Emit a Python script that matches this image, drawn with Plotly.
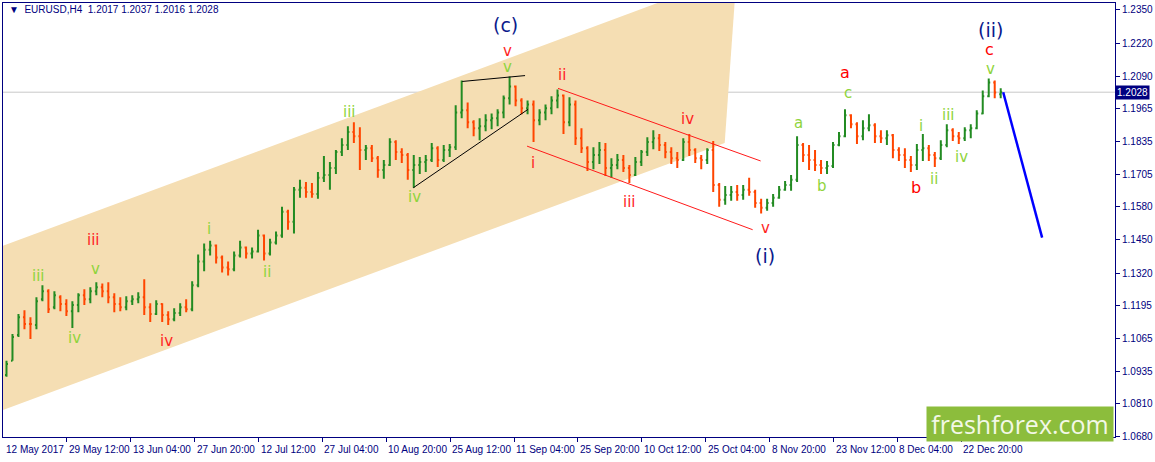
"""EURUSD H4 Elliott-wave chart rebuilt with Plotly."""

import plotly.graph_objects as go

# Daily OHLC (one bar per trading day, 15 May - 29 Dec 2017)
OPEN = [
    1.0922, 1.0977, 1.1078, 1.1148, 1.1121, 1.1117, 1.1218, 1.1249, 1.1187, 1.1226,
    1.1199, 1.1171, 1.1195, 1.1234, 1.1218, 1.1249, 1.1265, 1.1249, 1.1226, 1.1199,
    1.1187, 1.1210, 1.1218, 1.1226, 1.1187, 1.1160, 1.1199, 1.1156, 1.1140, 1.1164,
    1.1187, 1.1179, 1.1273, 1.1366, 1.1412, 1.1428, 1.1381, 1.1342, 1.1335, 1.1389,
    1.1420, 1.1397, 1.1405, 1.1467, 1.1397, 1.1440, 1.1467, 1.1560, 1.1521, 1.1646,
    1.1654, 1.1638, 1.1630, 1.1693, 1.1704, 1.1731, 1.1794, 1.1821, 1.1872, 1.1856,
    1.1802, 1.1809, 1.1770, 1.1724, 1.1743, 1.1833, 1.1794, 1.1782, 1.1724, 1.1743,
    1.1755, 1.1763, 1.1809, 1.1763, 1.1802, 1.1813, 1.1949, 1.1957, 1.1910, 1.1887,
    1.1895, 1.1918, 1.1926, 1.1949, 1.2004, 1.2050, 1.1996, 1.1965, 1.1980, 1.1918,
    1.1949, 1.1965, 1.1996, 1.2015, 1.1910, 1.1980, 1.1848, 1.1809, 1.1755, 1.1782,
    1.1802, 1.1731, 1.1743, 1.1763, 1.1731, 1.1704, 1.1755, 1.1794, 1.1833, 1.1848,
    1.1821, 1.1794, 1.1770, 1.1763, 1.1833, 1.1802, 1.1770, 1.1763, 1.1802, 1.1665,
    1.1607, 1.1626, 1.1638, 1.1626, 1.1646, 1.1638, 1.1595, 1.1576, 1.1595, 1.1615,
    1.1646, 1.1665, 1.1685, 1.1821, 1.1782, 1.1763, 1.1743, 1.1731, 1.1739, 1.1821,
    1.1856, 1.1938, 1.1903, 1.1856, 1.1887, 1.1899, 1.1856, 1.1848, 1.1860, 1.1802,
    1.1782, 1.1763, 1.1743, 1.1802, 1.1809, 1.1782, 1.1770, 1.1821, 1.1879, 1.1856,
    1.1848, 1.1879, 1.1887, 1.1945, 1.2012, 1.2066, 1.2020,
]
HIGH = [
    1.0977, 1.1082, 1.1160, 1.1175, 1.1148, 1.1226, 1.1273, 1.1257, 1.1249, 1.1234,
    1.1218, 1.1210, 1.1241, 1.1257, 1.1265, 1.1284, 1.1280, 1.1284, 1.1241, 1.1226,
    1.1230, 1.1234, 1.1245, 1.1296, 1.1202, 1.1214, 1.1202, 1.1171, 1.1183, 1.1202,
    1.1218, 1.1288, 1.1393, 1.1436, 1.1447, 1.1432, 1.1389, 1.1366, 1.1405, 1.1447,
    1.1424, 1.1420, 1.1490, 1.1471, 1.1455, 1.1483, 1.1580, 1.1568, 1.1657, 1.1685,
    1.1677, 1.1673, 1.1716, 1.1778, 1.1755, 1.1802, 1.1848, 1.1895, 1.1910, 1.1891,
    1.1821, 1.1821, 1.1778, 1.1763, 1.1848, 1.1840, 1.1809, 1.1790, 1.1782, 1.1774,
    1.1782, 1.1829, 1.1817, 1.1821, 1.1825, 1.1977, 1.2074, 1.1988, 1.1918, 1.1926,
    1.1942, 1.1945, 1.1961, 1.2015, 1.2089, 1.2054, 1.2004, 1.1996, 1.1996, 1.1961,
    1.1980, 1.2012, 1.2039, 1.2019, 1.2008, 1.1996, 1.1887, 1.1817, 1.1813, 1.1833,
    1.1829, 1.1770, 1.1786, 1.1782, 1.1743, 1.1774, 1.1802, 1.1852, 1.1879, 1.1864,
    1.1833, 1.1813, 1.1794, 1.1848, 1.1864, 1.1809, 1.1782, 1.1809, 1.1837, 1.1673,
    1.1661, 1.1661, 1.1665, 1.1665, 1.1693, 1.1646, 1.1611, 1.1611, 1.1630, 1.1661,
    1.1681, 1.1704, 1.1856, 1.1829, 1.1821, 1.1802, 1.1763, 1.1759, 1.1833, 1.1872,
    1.1961, 1.1942, 1.1910, 1.1918, 1.1942, 1.1907, 1.1879, 1.1879, 1.1864, 1.1813,
    1.1809, 1.1778, 1.1825, 1.1864, 1.1821, 1.1794, 1.1840, 1.1903, 1.1887, 1.1872,
    1.1891, 1.1903, 1.1957, 1.2035, 1.2082, 1.2074, 1.2043,
]
LOW = [
    1.0915, 1.0977, 1.1070, 1.1101, 1.1062, 1.1101, 1.1210, 1.1164, 1.1179, 1.1171,
    1.1152, 1.1105, 1.1167, 1.1195, 1.1202, 1.1234, 1.1226, 1.1202, 1.1167, 1.1171,
    1.1175, 1.1195, 1.1202, 1.1156, 1.1129, 1.1156, 1.1129, 1.1117, 1.1132, 1.1152,
    1.1167, 1.1171, 1.1265, 1.1327, 1.1389, 1.1358, 1.1323, 1.1311, 1.1327, 1.1381,
    1.1377, 1.1377, 1.1401, 1.1370, 1.1389, 1.1432, 1.1459, 1.1490, 1.1475, 1.1615,
    1.1615, 1.1615, 1.1611, 1.1677, 1.1646, 1.1708, 1.1778, 1.1802, 1.1829, 1.1724,
    1.1763, 1.1755, 1.1693, 1.1689, 1.1739, 1.1763, 1.1751, 1.1685, 1.1654, 1.1708,
    1.1716, 1.1755, 1.1735, 1.1755, 1.1774, 1.1802, 1.1926, 1.1887, 1.1856, 1.1840,
    1.1875, 1.1883, 1.1895, 1.1926, 1.1980, 1.1973, 1.1942, 1.1942, 1.1833, 1.1899,
    1.1918, 1.1942, 1.1965, 1.1864, 1.1895, 1.1821, 1.1790, 1.1720, 1.1727, 1.1747,
    1.1700, 1.1693, 1.1727, 1.1716, 1.1673, 1.1700, 1.1739, 1.1778, 1.1805, 1.1798,
    1.1770, 1.1747, 1.1731, 1.1759, 1.1778, 1.1751, 1.1727, 1.1747, 1.1638, 1.1580,
    1.1588, 1.1603, 1.1603, 1.1607, 1.1623, 1.1576, 1.1553, 1.1564, 1.1580, 1.1611,
    1.1642, 1.1642, 1.1677, 1.1755, 1.1724, 1.1720, 1.1708, 1.1708, 1.1731, 1.1817,
    1.1852, 1.1887, 1.1825, 1.1840, 1.1875, 1.1829, 1.1829, 1.1821, 1.1770, 1.1759,
    1.1731, 1.1716, 1.1724, 1.1759, 1.1759, 1.1735, 1.1763, 1.1813, 1.1837, 1.1825,
    1.1837, 1.1848, 1.1883, 1.1942, 1.2008, 1.2004, 1.2004,
]
CLOSE = [
    1.0965, 1.1070, 1.1148, 1.1121, 1.1121, 1.1210, 1.1249, 1.1179, 1.1234, 1.1199,
    1.1171, 1.1195, 1.1234, 1.1218, 1.1249, 1.1265, 1.1249, 1.1226, 1.1199, 1.1187,
    1.1210, 1.1218, 1.1226, 1.1187, 1.1160, 1.1199, 1.1156, 1.1140, 1.1164, 1.1187,
    1.1179, 1.1273, 1.1366, 1.1412, 1.1428, 1.1381, 1.1342, 1.1335, 1.1389, 1.1420,
    1.1397, 1.1405, 1.1467, 1.1397, 1.1440, 1.1467, 1.1560, 1.1521, 1.1646, 1.1654,
    1.1638, 1.1630, 1.1693, 1.1704, 1.1731, 1.1794, 1.1821, 1.1872, 1.1856, 1.1802,
    1.1809, 1.1770, 1.1724, 1.1743, 1.1833, 1.1794, 1.1782, 1.1724, 1.1743, 1.1755,
    1.1763, 1.1809, 1.1763, 1.1802, 1.1813, 1.1949, 1.1957, 1.1910, 1.1887, 1.1895,
    1.1918, 1.1926, 1.1949, 1.2004, 1.2050, 1.1996, 1.1965, 1.1980, 1.1918, 1.1949,
    1.1965, 1.1996, 1.2015, 1.1910, 1.1980, 1.1848, 1.1809, 1.1755, 1.1782, 1.1802,
    1.1731, 1.1743, 1.1763, 1.1731, 1.1704, 1.1755, 1.1794, 1.1833, 1.1848, 1.1821,
    1.1794, 1.1770, 1.1763, 1.1833, 1.1802, 1.1770, 1.1763, 1.1802, 1.1665, 1.1607,
    1.1626, 1.1638, 1.1626, 1.1646, 1.1638, 1.1595, 1.1576, 1.1595, 1.1615, 1.1646,
    1.1665, 1.1685, 1.1821, 1.1782, 1.1763, 1.1743, 1.1731, 1.1739, 1.1821, 1.1856,
    1.1938, 1.1903, 1.1856, 1.1887, 1.1899, 1.1856, 1.1848, 1.1860, 1.1802, 1.1782,
    1.1763, 1.1743, 1.1802, 1.1809, 1.1782, 1.1770, 1.1821, 1.1879, 1.1856, 1.1848,
    1.1879, 1.1887, 1.1945, 1.2012, 1.2066, 1.2027, 1.2028,
]

# x axis is counted in H4 bars; every date label sits 64 bars after the previous one
DATE_LABELS = [
    "29 May 12:00", "13 Jun 04:00", "27 Jun 20:00", "12 Jul 12:00", "27 Jul 04:00",
    "10 Aug 20:00", "25 Aug 12:00", "11 Sep 04:00", "25 Sep 20:00", "10 Oct 12:00",
    "25 Oct 04:00", "8 Nov 20:00", "23 Nov 12:00", "8 Dec 04:00", "22 Dec 20:00",
]
DATE_TICKS = [69, 133, 197, 261, 325, 389, 453, 517, 581, 645, 709, 773, 837, 901, 965]
FIRST_LABEL = "12 May 2017"
PRICE_TICKS = [1.2350, 1.2220, 1.2090, 1.1965, 1.1835, 1.1705, 1.1580,
               1.1450, 1.1320, 1.1195, 1.1065, 1.0935, 1.0810, 1.0680]
LAST_PRICE = 1.2028
HEADER = "EURUSD,H4  1.2017 1.2037 1.2016 1.2028"

# wave labels: (text, bar, price, style)
WAVE_LABELS = [
    ("(c)", 508, 1.2292, "navy"), ("v", 510, 1.2190, "red"), ("v", 510, 1.2128, "green"),
    ("ii", 565, 1.2097, "red"), ("i", 536, 1.1751, "red"), ("iv", 417, 1.1619, "green"),
    ("iii", 352, 1.1949, "green"), ("i", 211, 1.1494, "green"), ("ii", 269, 1.1323, "green"),
    ("iii", 96, 1.1448, "red"), ("iii", 41, 1.1307, "green"), ("v", 98, 1.1335, "green"),
    ("iv", 77, 1.1066, "green"), ("iv", 169, 1.1055, "red"), ("iv", 691, 1.1922, "red"),
    ("iii", 633, 1.1599, "red"), ("a", 802, 1.1907, "green"), ("v", 769, 1.1498, "red"),
    ("(i)", 768, 1.1389, "navy"), ("(ii)", 994, 1.2272, "navy"), ("c", 993, 1.2194, "redbig"),
    ("v", 994, 1.2120, "green"), ("a", 849, 1.2105, "redbig"), ("c", 852, 1.2023, "green"),
    ("b", 825, 1.1661, "green"), ("b", 920, 1.1657, "redbig"), ("i", 925, 1.1895, "green"),
    ("iii", 952, 1.1938, "green"), ("ii", 938, 1.1689, "green"), ("iv", 965, 1.1774, "green"),
]

# trend lines drawn on the chart: (x0, y0, x1, y1, colour, width)
TREND_LINES = [
    (465, 1.2070, 528, 1.2093, "#000000", 1),
    (416, 1.1654, 531, 1.1961, "#000000", 1),
    (561, 1.2043, 764, 1.1759, "#ff1a1a", 1),
    (530, 1.1817, 756, 1.1490, "#ff1a1a", 1),
    (1007, 1.2028, 1046, 1.1459, "#0000ff", 2.5),
]
# rising channel corners (bar, price)
CHANNEL = [(5, 1.1427), (740, 1.2492), (728, 1.1829), (5, 1.0785)]

NAVY = "#000080"
STYLES = {
    "navy": {"color": "#0a1a8c", "size": 19},
    "red": {"color": "#ff1f1f", "size": 15},
    "redbig": {"color": "#ff0000", "size": 16},
    "green": {"color": "#8fd43c", "size": 15},
}
BAR_X = [8.5 + 6 * d for d in range(len(CLOSE))]

fig = go.Figure()
fig.add_trace(
    go.Ohlc(
        x=BAR_X,
        open=OPEN,
        high=HIGH,
        low=LOW,
        close=CLOSE,
        increasing={"line": {"color": "#228b22", "width": 2}},
        decreasing={"line": {"color": "#ff4500", "width": 2}},
        tickwidth=0.25,
        hoverinfo="skip",
        showlegend=False,
    )
)

shapes = []
path = "M " + " L ".join(f"{x},{y}" for x, y in CHANNEL) + " Z"
shapes.append(dict(type="path", path=path, xref="x", yref="y", layer="below",
                   fillcolor="#f5deb3", line={"width": 0}))
shapes.append(dict(type="line", xref="paper", yref="y", x0=0, x1=1, y0=LAST_PRICE,
                   y1=LAST_PRICE, layer="below", line={"color": "#c8c8c8", "width": 1}))
for x0, y0, x1, y1, color, width in TREND_LINES:
    shapes.append(dict(type="line", xref="x", yref="y", x0=x0, y0=y0, x1=x1, y1=y1,
                       line={"color": color, "width": width}))

annotations = []
for text, x, y, style in WAVE_LABELS:
    st = STYLES[style]
    annotations.append(dict(x=x, y=y, xref="x", yref="y", text=text, showarrow=False,
                            xanchor="center", yanchor="middle",
                            font={"family": "DejaVu Sans", "size": st["size"],
                                  "color": st["color"]}))

axis_font = {"family": "Liberation Sans", "size": 10, "color": NAVY}
annotations.append(dict(x=6, y=-0.028, xref="x", yref="paper", text=FIRST_LABEL,
                        showarrow=False, xanchor="left", yanchor="middle", font=axis_font))
for x, label in zip(DATE_TICKS, DATE_LABELS):
    annotations.append(dict(x=x, y=-0.028, xref="x", yref="paper", text=label,
                            showarrow=False, xanchor="left", yanchor="middle",
                            font=axis_font))
annotations.append(dict(x=1.0, y=LAST_PRICE, xref="paper", yref="y",
                        text=f"{LAST_PRICE:.4f}", showarrow=False, xanchor="left",
                        yanchor="middle", bgcolor=NAVY, borderpad=1,
                        font={"family": "Liberation Sans", "size": 10, "color": "white"}))
annotations.append(dict(x=0.004, y=0.985, xref="paper", yref="paper",
                        text="▼  " + HEADER, showarrow=False, xanchor="left",
                        yanchor="middle",
                        font={"family": "Liberation Sans", "size": 10, "color": NAVY}))
# freshforex badge
annotations.append(dict(x=0.9147, y=0.030, xref="paper", yref="paper",
                        text="freshforex.com", showarrow=False, xanchor="center",
                        yanchor="middle", width=186, height=34, bgcolor="#8cbd3c",
                        borderpad=0,
                        font={"family": "Open Sans", "size": 25, "color": "#f3f8e6"}))

fig.update_layout(
    width=1155,
    height=462,
    margin={"l": 2, "r": 39, "t": 2, "b": 25},
    paper_bgcolor="white",
    plot_bgcolor="white",
    shapes=shapes,
    annotations=annotations,
    showlegend=False,
    hovermode=False,
)
fig.update_xaxes(
    range=[5, 1119],
    rangeslider_visible=False,
    showgrid=False,
    zeroline=False,
    showline=True,
    mirror=True,
    linecolor=NAVY,
    linewidth=1,
    ticks="outside",
    tickvals=DATE_TICKS,
    ticklen=4,
    tickcolor=NAVY,
    showticklabels=False,
    fixedrange=True,
)
fig.update_yaxes(
    range=[1.0679, 1.2377],
    side="right",
    showgrid=False,
    zeroline=False,
    showline=True,
    mirror=True,
    linecolor=NAVY,
    linewidth=1,
    ticks="outside",
    tickvals=PRICE_TICKS,
    ticktext=[f"{p:.4f}" for p in PRICE_TICKS],
    ticklen=4,
    tickcolor=NAVY,
    tickfont=axis_font,
    fixedrange=True,
)

fig.write_html(
    "out.html",
    config={"displayModeBar": False},
    post_script="document.body.style.margin = '0';",
)
